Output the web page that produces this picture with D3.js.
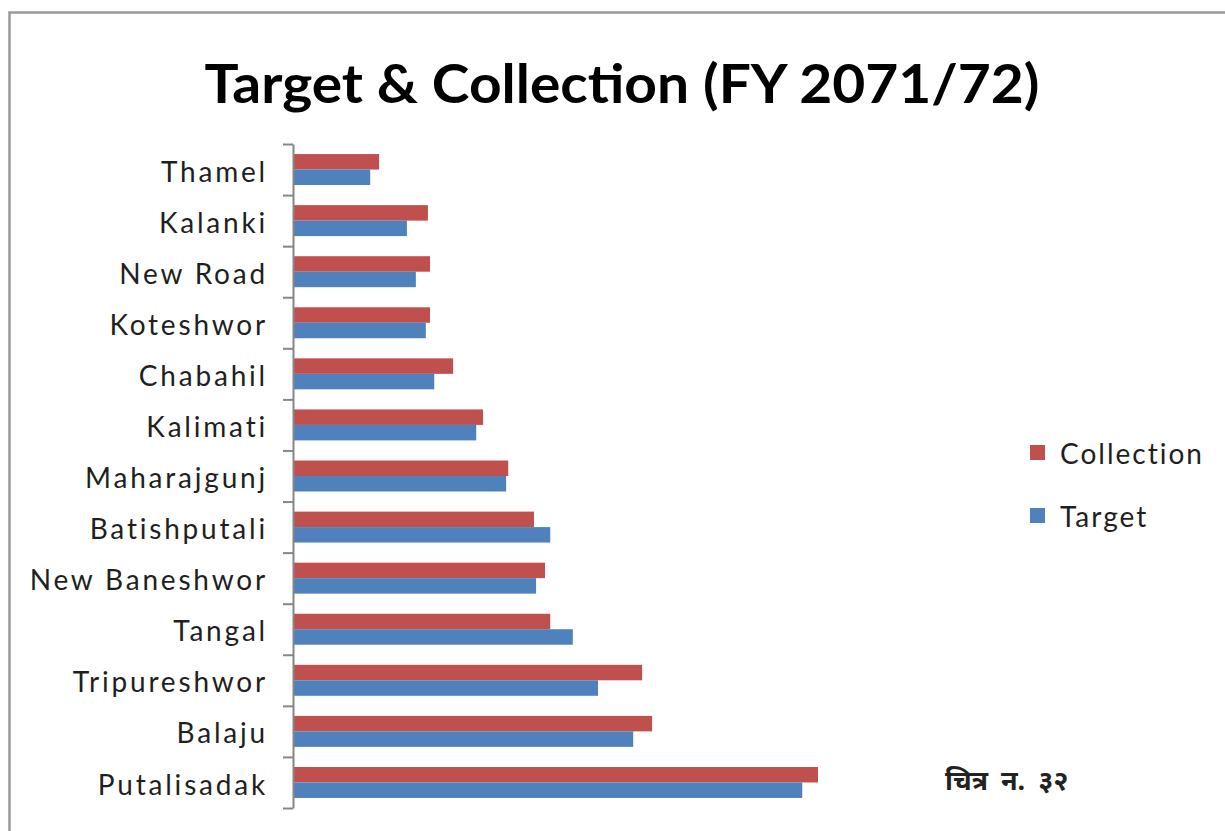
<!DOCTYPE html>
<html>
<head>
<meta charset="utf-8">
<script src="https://cdn.jsdelivr.net/npm/d3@7"></script>
<style>
  body { margin: 0; background: #fff; }
  svg { display: block; }
</style>
</head>
<body>
<div id="wrapper"></div>
<script>
// categories top to bottom (relative units)
const branches = ["Thamel", "Kalanki", "New Road", "Koteshwor", "Chabahil", "Kalimati",
    "Maharajgunj", "Batishputali", "New Baneshwor", "Tangal", "Tripureshwor", "Balaju", "Putalisadak"];
const collection = [16.4, 25.7, 26.1, 26.1, 30.5, 36.2, 41.0, 45.9, 48.0, 49.0, 66.5, 68.4, 100];
const target = [14.7, 21.7, 23.4, 25.3, 26.9, 34.9, 40.6, 49.0, 46.3, 53.3, 58.1, 64.8, 97.0];
const seriesNames = ["Collection", "Target"];
const seriesColors = ["#c0504d", "#4f81bd"];

function buildPlot() {
    const dimension = { width: 1225, height: 831 };
    const plot = { left: 293, right: 818, top: 144, bottom: 808 };

    const svg = d3.select("#wrapper").append("svg")
        .attr("width", dimension.width)
        .attr("height", dimension.height);

    // outer frame (left and top edges show)
    svg.append("path")
        .attr("d", "M9.5,831 V12.5 H1225")
        .attr("fill", "none")
        .attr("stroke", "#9a9a9a")
        .attr("stroke-width", 2.5);

    // title
    svg.append("text")
        .attr("x", 622)
        .attr("y", 103)
        .attr("text-anchor", "middle")
        .attr("font-family", "Lato")
        .attr("font-weight", "bold")
        .attr("font-size", 53)
        .attr("textLength", 835)
        .attr("lengthAdjust", "spacingAndGlyphs")
        .attr("fill", "#000")
        .text("Target & Collection (FY 2071/72)");

    const data = branches.map((b, i) => ({ branch: b, values: [collection[i], target[i]] }));

    const yScaler = d3.scaleBand()
        .domain(branches)
        .range([plot.top, plot.bottom])
        .padding(0);

    const ySeries = d3.scaleBand()
        .domain(seriesNames)
        .range([0, yScaler.bandwidth()])
        .paddingInner(0)
        .paddingOuter(0.65);

    const xScaler = d3.scaleLinear()
        .domain([0, 100])
        .range([plot.left, plot.right]);

    // bars
    const groups = svg.append("g").selectAll("g")
        .data(data)
        .join("g")
        .attr("transform", d => `translate(0,${yScaler(d.branch)})`);

    groups.selectAll("rect")
        .data(d => d.values.map((v, k) => ({ key: seriesNames[k], value: v, color: seriesColors[k] })))
        .join("rect")
        .attr("x", xScaler(0))
        .attr("y", d => ySeries(d.key))
        .attr("width", d => xScaler(d.value) - xScaler(0))
        .attr("height", ySeries.bandwidth())
        .attr("fill", d => d.color);

    // axis line with ticks between categories
    const tickScale = d3.scaleLinear()
        .domain([0, branches.length])
        .range([plot.top, plot.bottom]);
    const tickAxis = d3.axisLeft(tickScale)
        .tickValues(d3.range(branches.length + 1))
        .tickFormat("")
        .tickSizeInner(10)
        .tickSizeOuter(0);
    svg.append("g")
        .attr("transform", `translate(${plot.left},0)`)
        .call(tickAxis)
        .call(g => g.selectAll("line,path").attr("stroke", "#868686").attr("stroke-width", 2));

    // category labels
    const labelAxis = d3.axisLeft(yScaler).tickSize(0).tickPadding(25);
    svg.append("g")
        .attr("transform", `translate(${plot.left},0)`)
        .call(labelAxis)
        .call(g => g.select(".domain").remove())
        .call(g => g.selectAll("text")
            .attr("font-family", "Lato")
            .attr("font-size", 28)
            .attr("letter-spacing", 2.8)
            .attr("fill", "#1f1f1f")
            .attr("dy", "0.43em"));

    // legend
    const legend = svg.append("g").selectAll("g")
        .data(seriesNames)
        .join("g")
        .attr("transform", (d, i) => `translate(1030,${453 + i * 63})`);
    legend.append("rect")
        .attr("x", 0)
        .attr("y", -8)
        .attr("width", 15)
        .attr("height", 15)
        .attr("fill", (d, i) => seriesColors[i]);
    legend.append("text")
        .attr("x", 30)
        .attr("y", 0)
        .attr("dy", "0.38em")
        .attr("font-family", "Lato")
        .attr("font-size", 28)
        .attr("letter-spacing", 2.0)
        .attr("fill", "#1f1f1f")
        .text(d => d);

    // figure caption
    svg.append("text")
        .attr("x", 945)
        .attr("y", 790)
        .attr("font-family", "Noto Sans, sans-serif")
        .attr("font-weight", "bold")
        .attr("font-size", 27)
        .attr("word-spacing", 6)
        .attr("fill", "#222")
        .text("चित्र न. ३२");
}

buildPlot();
</script>
</body>
</html>
